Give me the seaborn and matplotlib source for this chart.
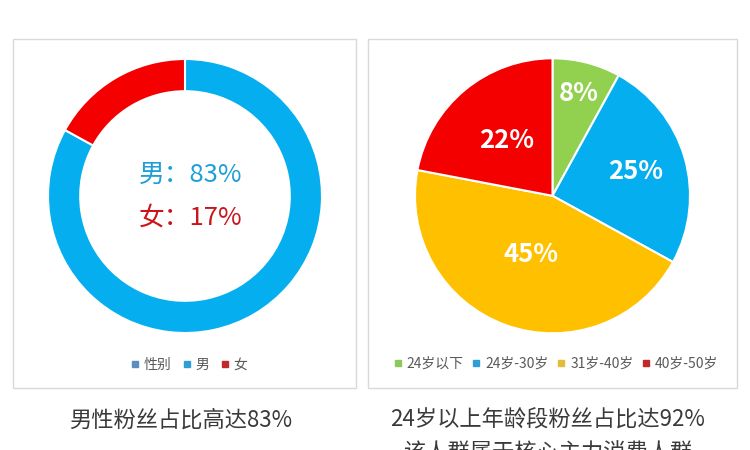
import matplotlib
matplotlib.use("Agg")
import matplotlib.pyplot as plt
from matplotlib.lines import Line2D
from matplotlib.patches import Rectangle
import numpy as np
import seaborn as sns

# ---- data ----
gender_series = "性别"
gender_labels = ["男", "女"]
gender_values = [83, 17]
age_labels = ["24岁以下", "24岁-30岁", "31岁-40岁", "40岁-50岁"]
age_values = [8, 25, 45, 22]
caption_left = "男性粉丝占比高达83%"
caption_right_1 = "24岁以上年龄段粉丝占比达92%"
caption_right_2 = "该人群属于核心主力消费人群"

# ---- style ----
sns.set_theme(style="white")
plt.rcParams["font.family"] = ["Noto Sans CJK SC", "DejaVu Sans"]

gender_colors = ["#05AEEF", "#F50000"]
gender_text_colors = ["#1F9FD8", "#C8161D"]
gender_legend_colors = ["#5B8DC0", "#2E9FD6", "#C0282A"]
age_colors = ["#92D050", "#05AEEF", "#FFC000", "#F50000"]
age_legend_colors = ["#8CC85A", "#2E9FD6", "#E0BE3A", "#C0282A"]
label_dist = [0.77, 0.63, 0.45, 0.52]

W, H = 750, 450
fig = plt.figure(figsize=(7.5, 4.5), dpi=100)
fig.patch.set_facecolor("white")


def fx(x):
    return x / W


def fy(y):
    return 1 - y / H


# panel frames
for (x0, y0, x1, y1) in [(13, 39, 356, 388), (368, 39, 737, 388)]:
    fig.add_artist(Rectangle((fx(x0), fy(y1)), fx(x1) - fx(x0), fy(y0) - fy(y1),
                             transform=fig.transFigure, fill=False,
                             edgecolor="#D9D9D9", linewidth=1.0))

# ---- donut ----
cx, cy, r = 185, 196, 137
half = 150
ax1 = fig.add_axes([fx(cx - half), fy(cy + half), 2 * half / W, 2 * half / H])
ax1.pie(gender_values, colors=gender_colors, startangle=90, counterclock=False,
        wedgeprops=dict(width=0.235, edgecolor="white", linewidth=1.5))
lim = half / r
ax1.set_xlim(-lim, lim)
ax1.set_ylim(-lim, lim)
ax1.axis("off")
for i, (lab, val) in enumerate(zip(gender_labels, gender_values)):
    ax1.text(0.04, 0.153 - i * 0.313, f"{lab}：{val}%", ha="center", va="center",
             fontsize=18.5, color=gender_text_colors[i])

h1 = [Line2D([], [], marker="s", linestyle="", color=c, markersize=5)
      for c in gender_legend_colors]
fig.legend(h1, [gender_series] + gender_labels, loc="center",
           bbox_to_anchor=(fx(189), fy(365)), ncol=3, frameon=False,
           fontsize=10, handlelength=0.6, handletextpad=0.35,
           columnspacing=0.8, labelcolor="#595959")

# ---- pie ----
px, py, pr = 552.5, 195.8, 137.5
ax2 = fig.add_axes([fx(px - half), fy(py + half), 2 * half / W, 2 * half / H])
ax2.pie(age_values, colors=age_colors, startangle=90, counterclock=False,
        wedgeprops=dict(edgecolor="white", linewidth=1.5))
lim2 = half / pr
ax2.set_xlim(-lim2, lim2)
ax2.set_ylim(-lim2, lim2)
ax2.axis("off")
total = sum(age_values)
cum = np.cumsum([0] + age_values)
for i, val in enumerate(age_values):
    mid = np.deg2rad(90 - (cum[i] + val / 2) / total * 360)
    d = label_dist[i]
    ax2.text(d * np.cos(mid), d * np.sin(mid), f"{val}%", ha="center",
             va="center", fontsize=18.5, color="white", fontweight="bold")

h2 = [Line2D([], [], marker="s", linestyle="", color=c, markersize=5)
      for c in age_legend_colors]
fig.legend(h2, age_labels, loc="center", bbox_to_anchor=(fx(556), fy(364)),
           ncol=4, frameon=False, fontsize=10, handlelength=0.6,
           handletextpad=0.35, columnspacing=0.6, labelcolor="#595959")

# ---- captions ----
fig.text(fx(181), fy(420), caption_left, ha="center", va="center",
         fontsize=16, color="#3A3A3A")
fig.text(fx(548), fy(420), caption_right_1, ha="center", va="center",
         fontsize=16, color="#3A3A3A")
fig.text(fx(548), fy(453), caption_right_2, ha="center", va="center",
         fontsize=16, color="#3A3A3A")

fig.savefig("out.png", dpi=100, facecolor="white")
